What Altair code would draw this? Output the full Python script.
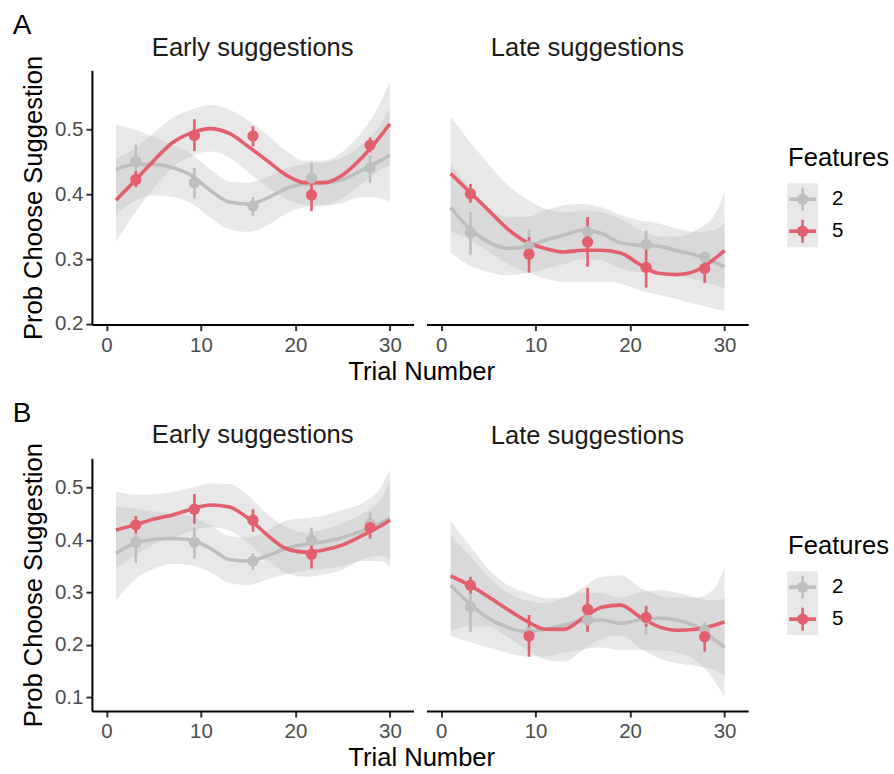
import altair as alt
import pandas as pd

FONT = "Liberation Sans"
FEATURES = ["2", "5"]
COLORS = ["#BEBEBE", "#E35F6B"]
RIBBON_FILL = "#BEBEBE"
PANELS = ["Early suggestions", "Late suggestions"]
ROW_LABELS = ["A", "B"]
LEGEND_TITLE = "Features"
X_TITLE = "Trial Number"
Y_TITLE = "Prob Choose Suggestion"

X_FIT = [1, 3, 5, 7, 9, 11, 13, 15, 17, 19, 21, 23, 25, 27, 29, 30]
X_BIN = [3.1, 9.3, 15.5, 21.7, 27.9]
X_TICKS = [0, 10, 20, 30]
Y_TICKS_A = [0.2, 0.3, 0.4, 0.5]
Y_TICKS_B = [0.1, 0.2, 0.3, 0.4, 0.5]

# ---- Row A, early suggestions
AE_FIT_2 = [0.438, 0.446, 0.446, 0.441, 0.429, 0.406, 0.388, 0.385, 0.394, 0.409, 0.416, 0.417, 0.423, 0.437, 0.452, 0.461]
AE_LO_2 = [0.368, 0.390, 0.398, 0.396, 0.386, 0.364, 0.346, 0.342, 0.352, 0.370, 0.380, 0.382, 0.387, 0.396, 0.394, 0.389]
AE_HI_2 = [0.508, 0.500, 0.488, 0.476, 0.462, 0.438, 0.420, 0.418, 0.427, 0.440, 0.447, 0.449, 0.457, 0.476, 0.508, 0.533]
AE_FIT_5 = [0.391, 0.421, 0.452, 0.480, 0.495, 0.5015, 0.494, 0.474, 0.452, 0.430, 0.418, 0.418, 0.430, 0.456, 0.490, 0.509]
AE_LO_5 = [0.327, 0.371, 0.409, 0.442, 0.459, 0.466, 0.457, 0.434, 0.412, 0.393, 0.384, 0.384, 0.394, 0.416, 0.438, 0.445]
AE_HI_5 = [0.455, 0.471, 0.495, 0.518, 0.531, 0.538, 0.531, 0.514, 0.492, 0.467, 0.452, 0.452, 0.466, 0.496, 0.542, 0.573]
AE_PT_2 = [0.451, 0.418, 0.382, 0.425, 0.441]
AE_PLO_2 = [0.426, 0.394, 0.367, 0.404, 0.418]
AE_PHI_2 = [0.477, 0.441, 0.396, 0.449, 0.460]
AE_PT_5 = [0.423, 0.491, 0.490, 0.399, 0.476]
AE_PLO_5 = [0.411, 0.467, 0.474, 0.374, 0.465]
AE_PHI_5 = [0.436, 0.516, 0.505, 0.424, 0.488]

# ---- Row A, late suggestions
AL_FIT_2 = [0.380, 0.347, 0.3265, 0.3165, 0.319, 0.329, 0.337, 0.345, 0.3395, 0.325, 0.3215, 0.320, 0.3127, 0.306, 0.2947, 0.288]
AL_LO_2 = [0.310, 0.290, 0.280, 0.275, 0.278, 0.285, 0.292, 0.300, 0.298, 0.285, 0.280, 0.280, 0.275, 0.268, 0.260, 0.255]
AL_HI_2 = [0.448, 0.410, 0.380, 0.365, 0.365, 0.375, 0.383, 0.385, 0.380, 0.368, 0.360, 0.355, 0.347, 0.342, 0.345, 0.356]
AL_FIT_5 = [0.432, 0.404, 0.3755, 0.347, 0.3265, 0.3165, 0.311, 0.3135, 0.3135, 0.3095, 0.292, 0.278, 0.276, 0.282, 0.301, 0.3135]
AL_LO_5 = [0.343, 0.330, 0.312, 0.293, 0.280, 0.270, 0.265, 0.265, 0.265, 0.262, 0.252, 0.245, 0.238, 0.230, 0.223, 0.220]
AL_HI_5 = [0.521, 0.482, 0.447, 0.415, 0.393, 0.378, 0.372, 0.375, 0.372, 0.362, 0.345, 0.335, 0.335, 0.345, 0.370, 0.404]
AL_PT_2 = [0.341, 0.320, 0.342, 0.3225, 0.303]
AL_PLO_2 = [0.307, 0.295, 0.320, 0.301, 0.295]
AL_PHI_2 = [0.373, 0.346, 0.365, 0.344, 0.311]
AL_PT_5 = [0.401, 0.3075, 0.3265, 0.287, 0.2855]
AL_PLO_5 = [0.387, 0.279, 0.288, 0.256, 0.263]
AL_PHI_5 = [0.416, 0.334, 0.365, 0.319, 0.298]

# ---- Row B, early suggestions
BE_FIT_2 = [0.375, 0.394, 0.401, 0.403, 0.400, 0.384, 0.363, 0.360, 0.370, 0.384, 0.392, 0.397, 0.405, 0.417, 0.433, 0.4415]
BE_LO_2 = [0.285, 0.325, 0.345, 0.355, 0.352, 0.338, 0.318, 0.314, 0.325, 0.335, 0.342, 0.345, 0.350, 0.360, 0.360, 0.348]
BE_HI_2 = [0.464, 0.460, 0.455, 0.450, 0.445, 0.428, 0.408, 0.405, 0.418, 0.437, 0.442, 0.447, 0.458, 0.470, 0.500, 0.535]
BE_FIT_5 = [0.419, 0.429, 0.440, 0.448, 0.459, 0.467, 0.463, 0.4415, 0.410, 0.384, 0.377, 0.381, 0.391, 0.408, 0.427, 0.438]
BE_LO_5 = [0.346, 0.370, 0.392, 0.404, 0.417, 0.425, 0.418, 0.395, 0.362, 0.337, 0.330, 0.334, 0.344, 0.363, 0.370, 0.364]
BE_HI_5 = [0.492, 0.487, 0.487, 0.492, 0.500, 0.508, 0.507, 0.485, 0.450, 0.425, 0.415, 0.420, 0.432, 0.450, 0.478, 0.512]
BE_PT_2 = [0.396, 0.396, 0.360, 0.400, 0.431]
BE_PLO_2 = [0.356, 0.365, 0.343, 0.375, 0.407]
BE_PHI_2 = [0.426, 0.424, 0.375, 0.424, 0.454]
BE_PT_5 = [0.429, 0.459, 0.438, 0.373, 0.424]
BE_PLO_5 = [0.413, 0.431, 0.416, 0.346, 0.403]
BE_PHI_5 = [0.446, 0.488, 0.459, 0.394, 0.442]

# ---- Row B, late suggestions
BL_FIT_2 = [0.314, 0.279, 0.251, 0.234, 0.225, 0.230, 0.238, 0.246, 0.2475, 0.241, 0.2475, 0.251, 0.2475, 0.235, 0.209, 0.195]
BL_LO_2 = [0.218, 0.205, 0.195, 0.185, 0.178, 0.178, 0.185, 0.192, 0.195, 0.190, 0.190, 0.190, 0.185, 0.170, 0.130, 0.100]
BL_HI_2 = [0.410, 0.370, 0.330, 0.300, 0.285, 0.280, 0.290, 0.300, 0.298, 0.290, 0.300, 0.305, 0.300, 0.290, 0.285, 0.289]
BL_FIT_5 = [0.3315, 0.314, 0.292, 0.268, 0.246, 0.230, 0.2297, 0.251, 0.272, 0.276, 0.254, 0.235, 0.228, 0.230, 0.238, 0.244]
BL_LO_5 = [0.226, 0.235, 0.235, 0.215, 0.192, 0.172, 0.168, 0.190, 0.212, 0.218, 0.195, 0.175, 0.165, 0.160, 0.152, 0.140]
BL_HI_5 = [0.437, 0.390, 0.345, 0.315, 0.300, 0.290, 0.290, 0.310, 0.330, 0.333, 0.310, 0.295, 0.290, 0.290, 0.310, 0.349]
BL_PT_2 = [0.273, 0.223, 0.2475, 0.251, 0.228]
BL_PLO_2 = [0.225, 0.210, 0.225, 0.220, 0.209]
BL_PHI_2 = [0.318, 0.237, 0.267, 0.273, 0.244]
BL_PT_5 = [0.314, 0.217, 0.268, 0.2526, 0.2157]
BL_PLO_5 = [0.298, 0.1775, 0.225, 0.2347, 0.187]
BL_PHI_5 = [0.330, 0.257, 0.309, 0.2742, 0.2347]

X_DOMAIN = [-1.55, 32.5]
Y_DOMAIN_A = [0.1988, 0.5915]
Y_DOMAIN_B = [0.0739, 0.556]
PANEL_W = 322
PANEL_H_A = 254.5
PANEL_H_B = 253


def fit_df(fits):
    rows = []
    for feat, (fit, lo, hi) in zip(FEATURES, fits):
        for x, f, l, h in zip(X_FIT, fit, lo, hi):
            rows.append({"x": x, "fit": f, "lo": l, "hi": h, "Features": feat})
    return pd.DataFrame(rows)


def pt_df(pts):
    rows = []
    for feat, (m, lo, hi) in zip(FEATURES, pts):
        for x, a, l, h in zip(X_BIN, m, lo, hi):
            rows.append({"x": x, "mean": a, "lo": l, "hi": h, "Features": feat})
    return pd.DataFrame(rows)


color_enc = alt.Color("Features:N", scale=alt.Scale(domain=FEATURES, range=COLORS), legend=None)


def legend_layer():
    leg = pd.DataFrame({"Features": FEATURES})
    ly = alt.Y("Features:N", axis=None,
               scale=alt.Scale(type="band", domain=FEATURES, range=[113, 177],
                               paddingInner=0, paddingOuter=0))
    base = alt.Chart(leg)
    bg = base.mark_rect(color=RIBBON_FILL, opacity=0.35).encode(
        x=alt.value(361), x2=alt.value(392), y=ly)
    hline = base.mark_point(shape="M-1,0L1,0", size=729, filled=False, strokeWidth=3.6,
                            opacity=1).encode(x=alt.value(376.5), y=ly, color=color_enc)
    vline = base.mark_point(shape="M0,-1L0,1", size=529, filled=False, strokeWidth=2.6,
                            opacity=1).encode(x=alt.value(376.5), y=ly, color=color_enc)
    dot = base.mark_circle(size=127, opacity=1).encode(x=alt.value(376.5), y=ly, color=color_enc)
    lab = base.mark_text(align="left", baseline="middle", fontSize=20.5, font=FONT,
                         color="black").encode(x=alt.value(406), y=ly, text="Features:N")
    ttl = alt.Chart(pd.DataFrame({"t": [LEGEND_TITLE]})).mark_text(
        align="left", baseline="alphabetic", fontSize=25.6, font=FONT, color="black"
    ).encode(x=alt.value(362), y=alt.value(96), text="t:N")
    return alt.layer(bg, hline, vline, dot, lab, ttl)


def panel(fits, pts, title, ydom, yticks, height, left):
    xs = alt.Scale(domain=X_DOMAIN, nice=False, zero=False)
    ys = alt.Scale(domain=ydom, nice=False, zero=False)
    xaxis = alt.Axis(values=X_TICKS, title=None)
    if left:
        yaxis = alt.Axis(values=yticks, format=".1f", title=Y_TITLE, titleAngle=270,
                         titleX=-50.3, titleY=height / 2, titleAlign="center",
                         titleBaseline="alphabetic")
    else:
        yaxis = None
    fd = fit_df(fits)
    pdf = pt_df(pts)
    X = alt.X("x:Q", scale=xs, axis=xaxis)
    ribbon = alt.Chart(fd).mark_area(interpolate="monotone", color=RIBBON_FILL, opacity=0.35).encode(
        x=X, y=alt.Y("lo:Q", scale=ys, axis=yaxis), y2="hi:Q", detail="Features:N")
    line = alt.Chart(fd).mark_line(interpolate="monotone", strokeWidth=3.6).encode(
        x=X, y=alt.Y("fit:Q", scale=ys, axis=yaxis), color=color_enc)
    err = alt.Chart(pdf).mark_rule(strokeWidth=2.6).encode(
        x=X, y=alt.Y("lo:Q", scale=ys, axis=yaxis), y2="hi:Q", color=color_enc)
    dots = alt.Chart(pdf).mark_circle(size=127, opacity=1).encode(
        x=X, y=alt.Y("mean:Q", scale=ys, axis=yaxis), color=color_enc)
    data_layer = alt.layer(ribbon, line, err, dots)
    ttl = alt.TitleParams(title, fontSize=25.6, font=FONT, fontWeight="normal", color="#1A1A1A",
                          anchor="middle", frame="group", baseline="alphabetic",
                          offset=-26.4 if left else -11.4)
    if left:
        ch = data_layer
    else:
        ch = alt.layer(data_layer, legend_layer()).resolve_scale(y="independent")
    return ch.properties(width=PANEL_W, height=height, title=ttl)


def row(label, panels_data, ydom, yticks, height):
    (f1, p1), (f2, p2) = panels_data
    left = panel(f1, p1, PANELS[0], ydom, yticks, height, True)
    right = panel(f2, p2, PANELS[1], ydom, yticks, height, False)
    inner = alt.hconcat(left, right, spacing=13,
                        title=alt.TitleParams(X_TITLE, orient="bottom", anchor="start",
                                              fontSize=25.6, font=FONT, fontWeight="normal",
                                              color="black", baseline="alphabetic",
                                              offset=24, dx=327))
    return alt.vconcat(inner, title=alt.TitleParams(label, anchor="start", fontSize=28, font=FONT,
                                                    fontWeight="normal", color="black",
                                                    baseline="alphabetic", offset=-26.3, dx=-9))


rowA = row(ROW_LABELS[0], [
    ([(AE_FIT_2, AE_LO_2, AE_HI_2), (AE_FIT_5, AE_LO_5, AE_HI_5)],
     [(AE_PT_2, AE_PLO_2, AE_PHI_2), (AE_PT_5, AE_PLO_5, AE_PHI_5)]),
    ([(AL_FIT_2, AL_LO_2, AL_HI_2), (AL_FIT_5, AL_LO_5, AL_HI_5)],
     [(AL_PT_2, AL_PLO_2, AL_PHI_2), (AL_PT_5, AL_PLO_5, AL_PHI_5)]),
], Y_DOMAIN_A, Y_TICKS_A, PANEL_H_A)

rowB = row(ROW_LABELS[1], [
    ([(BE_FIT_2, BE_LO_2, BE_HI_2), (BE_FIT_5, BE_LO_5, BE_HI_5)],
     [(BE_PT_2, BE_PLO_2, BE_PHI_2), (BE_PT_5, BE_PLO_5, BE_PHI_5)]),
    ([(BL_FIT_2, BL_LO_2, BL_HI_2), (BL_FIT_5, BL_LO_5, BL_HI_5)],
     [(BL_PT_2, BL_PLO_2, BL_PHI_2), (BL_PT_5, BL_PLO_5, BL_PHI_5)]),
], Y_DOMAIN_B, Y_TICKS_B, PANEL_H_B)

chart = alt.vconcat(rowA, rowB, spacing=13.4).properties(
    padding={"left": 12, "top": 12, "right": 4, "bottom": 4}
).configure_view(stroke=None).configure_axis(
    grid=False, domainColor="black", domainWidth=2, tickColor="#333333", tickWidth=2,
    tickSize=6, labelColor="#4D4D4D", labelFontSize=20.5, labelFont=FONT,
    titleFont=FONT, titleFontSize=25.6, titleFontWeight="normal", titleColor="black",
    labelFlush=False
).configure_axisX(labelBaseline="alphabetic", labelPadding=20.5).configure_axisY(labelPadding=3)

chart.save("out.html", embed_options={"renderer": "svg", "actions": False})
